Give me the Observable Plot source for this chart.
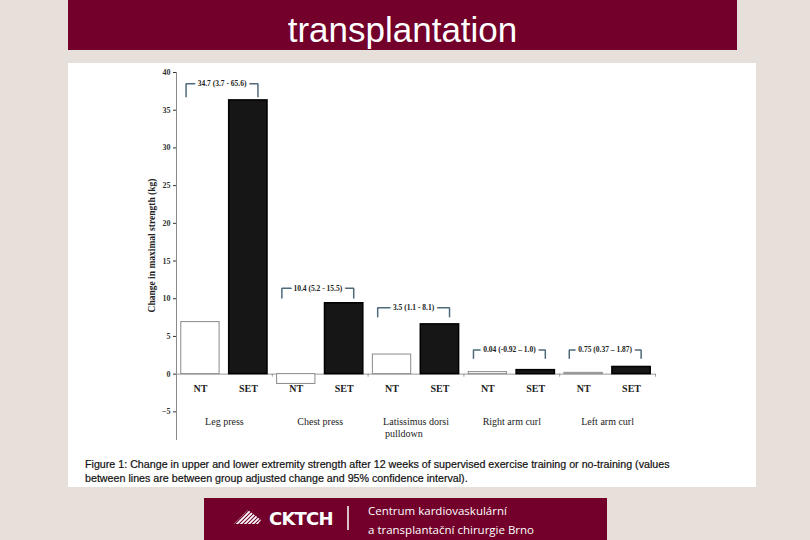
<!DOCTYPE html>
<html>
<head>
<meta charset="utf-8">
<script src="https://cdn.jsdelivr.net/npm/d3@7"></script>
<script src="https://cdn.jsdelivr.net/npm/@observablehq/plot@0.6"></script>
<style>
html, body { margin: 0; padding: 0; }
body { width: 810px; height: 540px; background: #e7dfd9; position: relative; overflow: hidden; font-family: "Liberation Sans", Arial, sans-serif; }
#titlebar { position: absolute; left: 68px; top: 0; width: 669px; height: 50px; background: #72002a; }
#title { position: absolute; left: 0; width: 100%; top: 10px; text-align: center; color: #fff; font-size: 35px; line-height: 40px; font-family: "Liberation Sans", Arial, sans-serif; }
#panel { position: absolute; left: 68px; top: 63px; width: 688px; height: 424px; background: #fff; }
#chart { position: absolute; left: 0; top: 0; }
#caption { position: absolute; left: 17px; top: 394px; font-size: 10.7px; line-height: 14px; color: #111; white-space: nowrap; -webkit-text-stroke: 0.2px #111; }
#footer { position: absolute; left: 204px; top: 498px; width: 403px; height: 42px; background: #72002a; }
#logo { position: absolute; left: 26px; top: 5px; }
#ftext { position: absolute; left: 164px; top: 3px; color: #fff; font-family: "Open Sans", sans-serif; font-size: 11.5px; line-height: 19px; white-space: nowrap; }
</style>
</head>
<body>
<div id="titlebar"><div id="title">transplantation</div></div>
<div id="panel">
  <div id="chart"></div>
  <div id="caption">Figure 1: Change in upper and lower extremity strength after 12 weeks of supervised exercise training or no-training (values<br>between lines are between group adjusted change and 95% confidence interval).</div>
</div>
<div id="footer">
  <svg id="logo" width="130" height="32" viewBox="0 0 130 32">
    <defs>
      <clipPath id="roof"><polygon points="4,21 18,7 31,17 28,21"/></clipPath>
    </defs>
    <g clip-path="url(#roof)" stroke="#fff" stroke-width="1.8">
      <line x1="-6" y1="26" x2="18" y2="2"/>
      <line x1="-2" y1="26" x2="22" y2="2"/>
      <line x1="2" y1="26" x2="26" y2="2"/>
      <line x1="6" y1="26" x2="30" y2="2"/>
      <line x1="10" y1="26" x2="34" y2="2"/>
      <line x1="14" y1="26" x2="38" y2="2"/>
      <line x1="18" y1="26" x2="42" y2="2"/>
      <line x1="22" y1="26" x2="46" y2="2"/>
      <line x1="26" y1="26" x2="50" y2="2"/>
    </g>
    <text x="39" y="22" fill="#fff" font-family="DejaVu Sans, Arial" font-weight="bold" font-size="18" letter-spacing="-0.8">CKTCH</text>
    <line x1="118" y1="3" x2="118" y2="27" stroke="#fff" stroke-width="1.5"/>
  </svg>
  <div id="ftext">Centrum kardiovaskulární<br>a transplantační chirurgie Brno</div>
</div>
<script>
// ---- data ----
const groups = ["Leg press", "Chest press", "Latissimus dorsi", "Right arm curl", "Left arm curl"];
const groupSecondLine = ["", "", "pulldown", "", ""];
const conditions = ["NT", "SET"];
const ntValues = [6.9, -1.3, 2.6, 0.27, 0.17];
const setValues = [36.3, 9.4, 6.6, 0.53, 0.95];
const diffLabels = ["34.7 (3.7 - 65.6)", "10.4 (5.2 - 15.5)", "3.5 (1.1 - 8.1)", "0.04 (-0.92 – 1.0)", "0.75 (0.37 – 1.87)"];
const bracketTop = [38.5, 11.4, 8.8, 3.2, 3.2];
const bracketLegEnd = [36.8, 10.1, 7.6, 2.1, 2.1];
const yTicks = [-5, 0, 5, 10, 15, 20, 25, 30, 35, 40];
const yLabel = "Change in maximal strength (kg)";

// ---- derived tables ----
const bars = [];
groups.forEach((g, i) => {
  bars.push({pos: 2 * i, cond: conditions[0], value: ntValues[i]});
  bars.push({pos: 2 * i + 1, cond: conditions[1], value: setValues[i]});
});
const groupRows = groups.map((g, i) => ({center: 2 * i + 0.5, start: 2 * i, name: g, second: groupSecondLine[i]}));
const boundaries = groups.map((g, i) => 2 * i + 1.5);
const bracketPts = [];
const bracketText = [];
groups.forEach((g, i) => {
  const l = 2 * i - 0.3, r = 2 * i + 1.2;
  bracketPts.push({b: i, x: l, y: bracketLegEnd[i]}, {b: i, x: l, y: bracketTop[i]}, {b: i, x: r, y: bracketTop[i]}, {b: i, x: r, y: bracketLegEnd[i]});
  bracketText.push({x: (l + r) / 2, y: bracketTop[i], label: diffLabels[i]});
});

const serif = "Liberation Serif, Times New Roman, serif";
const chart = Plot.plot({
  width: 688,
  height: 387,
  marginLeft: 108,
  marginRight: 101,
  marginTop: 9,
  marginBottom: 10,
  style: {background: "transparent", fontFamily: serif},
  x: {domain: [-0.5, 9.5], axis: null},
  y: {domain: [-8.8, 40]},
  marks: [
    Plot.ruleY([0], {stroke: "#9a9a9a", strokeWidth: 1}),
    Plot.ruleX(boundaries, {x: d => d, y1: 0, y2: -0.4, stroke: "#9a9a9a"}),
    Plot.rectY(bars.filter(d => d.cond === "NT"), {x1: d => d.pos - 0.4, x2: d => d.pos + 0.4, y1: 0, y2: "value", fill: "#fff", stroke: "#8a8a8a", strokeWidth: 1}),
    Plot.rectY(bars.filter(d => d.cond === "SET"), {x1: d => d.pos - 0.4, x2: d => d.pos + 0.4, y1: 0, y2: "value", fill: "#161616", stroke: "#000", strokeWidth: 1.5}),
    Plot.axisY(yTicks, {tickSize: 3, tickPadding: 3, fontSize: 8, fontWeight: "bold", fontFamily: serif, color: "#333", label: null}),
    Plot.text([yLabel], {frameAnchor: "left", textAnchor: "middle", rotate: -90, dx: -25, dy: -11, fontSize: 9.5, fontWeight: "bold", fontFamily: serif, fill: "#222"}),
    Plot.ruleX([-0.5], {stroke: "#8a8a8a"}),
    Plot.line(bracketPts, {x: "x", y: "y", z: "b", stroke: "#4f6a7a", strokeWidth: 1.5, strokeLinejoin: "miter"}),
    Plot.text(bracketText, {x: "x", y: "y", text: "label", fontSize: 7.5, fontWeight: "bold", fontFamily: serif, fill: "#222", stroke: "#fff", strokeWidth: 6, paintOrder: "stroke"}),
    Plot.text(bars, {x: "pos", y: 0, text: "cond", dy: 15, fontSize: 10, fontWeight: "bold", fontFamily: serif, fill: "#222"}),
    Plot.text(groupRows, {x: "center", y: 0, text: "name", dy: 48, fontSize: 10, fontFamily: serif, fill: "#222"}),
    Plot.text(groupRows.filter(d => d.second), {x: "start", y: 0, text: "second", dy: 60, dx: -7, textAnchor: "start", fontSize: 10, fontFamily: serif, fill: "#222"})
  ]
});
document.getElementById("chart").appendChild(chart);
</script>
</body>
</html>
